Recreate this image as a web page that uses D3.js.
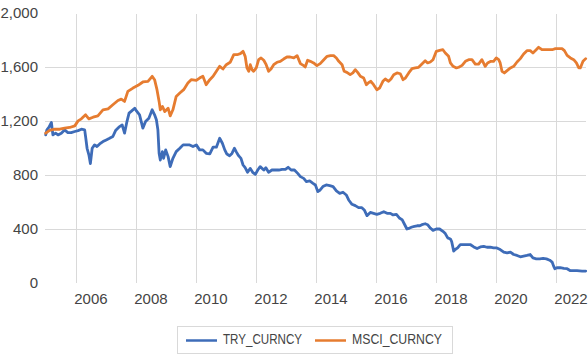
<!DOCTYPE html>
<html>
<head>
<meta charset="utf-8">
<script src="https://cdn.jsdelivr.net/npm/d3@7"></script>
<style>
  html, body { margin: 0; padding: 0; background: #fff; }
  svg { display: block; font-family: "Liberation Sans", Arial, sans-serif; }
</style>
</head>
<body>
<svg id="chart" width="588" height="355"></svg>
<script>
// ---- data (decimal year, value) ----
const seriesNames = ["TRY_CURNCY", "MSCI_CURNCY"];
const seriesColors = ["#3e6cb8", "#e67c30"];

const tryYears = [2004.99,2005.03,2005.10,2005.18,2005.23,2005.32,2005.40,2005.51,2005.62,2005.73,2005.84,2005.96,2006.07,2006.18,2006.29,2006.32,2006.37,2006.43,2006.48,2006.54,2006.62,2006.70,2006.79,2006.90,2007.01,2007.12,2007.23,2007.32,2007.43,2007.54,2007.62,2007.70,2007.77,2007.84,2007.96,2008.03,2008.12,2008.23,2008.32,2008.43,2008.54,2008.62,2008.68,2008.73,2008.77,2008.81,2008.88,2008.92,2008.99,2009.07,2009.14,2009.23,2009.34,2009.46,2009.57,2009.68,2009.79,2009.90,2010.01,2010.12,2010.23,2010.34,2010.46,2010.57,2010.68,2010.79,2010.88,2010.96,2011.03,2011.12,2011.20,2011.28,2011.34,2011.42,2011.50,2011.57,2011.64,2011.72,2011.81,2011.89,2011.98,2012.06,2012.14,2012.26,2012.33,2012.42,2012.53,2012.64,2012.76,2012.87,2012.98,2013.07,2013.17,2013.28,2013.39,2013.48,2013.59,2013.68,2013.79,2013.90,2013.98,2014.06,2014.14,2014.23,2014.34,2014.46,2014.57,2014.68,2014.79,2014.90,2015.01,2015.09,2015.20,2015.31,2015.42,2015.53,2015.61,2015.70,2015.81,2015.92,2016.03,2016.14,2016.26,2016.37,2016.48,2016.57,2016.68,2016.79,2016.87,2016.94,2017.03,2017.12,2017.20,2017.28,2017.37,2017.46,2017.53,2017.64,2017.72,2017.81,2017.90,2018.01,2018.12,2018.23,2018.31,2018.39,2018.48,2018.52,2018.59,2018.64,2018.72,2018.81,2018.92,2019.03,2019.14,2019.26,2019.37,2019.48,2019.59,2019.70,2019.81,2019.92,2020.03,2020.14,2020.26,2020.37,2020.48,2020.59,2020.70,2020.81,2020.92,2021.03,2021.14,2021.23,2021.34,2021.46,2021.57,2021.68,2021.79,2021.87,2021.92,2021.96,2022.03,2022.14,2022.26,2022.37,2022.48,2022.59,2022.70,2022.87,2022.99];
const tryValues = [1097,1134,1154,1189,1097,1110,1097,1110,1134,1114,1114,1122,1129,1139,1134,1085,998,949,885,998,1023,1011,1030,1048,1060,1072,1085,1129,1154,1171,1110,1196,1258,1271,1295,1271,1246,1147,1196,1221,1283,1246,1209,1134,961,911,973,924,986,936,862,924,973,998,1023,1023,1023,1011,1023,986,986,961,956,1006,1006,1072,1035,986,955,943,960,998,973,943,923,874,854,820,849,820,805,837,862,837,854,820,837,837,837,842,842,857,837,837,812,788,775,751,756,738,726,677,689,714,726,721,714,682,664,672,652,615,583,573,558,558,541,499,523,516,509,516,528,516,516,504,509,479,469,439,400,407,415,420,424,424,432,439,432,407,390,400,400,383,366,334,326,309,236,248,260,285,285,285,285,267,255,267,272,265,265,260,260,248,228,223,228,211,204,194,199,204,211,186,179,179,182,179,169,155,125,106,113,113,108,106,91,91,91,88,88];

const msciYears = [2004.99,2005.12,2005.29,2005.46,2005.62,2005.79,2005.96,2006.07,2006.18,2006.32,2006.43,2006.57,2006.73,2006.90,2007.07,2007.23,2007.40,2007.51,2007.62,2007.73,2007.90,2008.07,2008.23,2008.40,2008.54,2008.62,2008.70,2008.77,2008.81,2008.88,2008.96,2009.07,2009.14,2009.23,2009.34,2009.46,2009.59,2009.73,2009.84,2010.01,2010.12,2010.23,2010.34,2010.46,2010.57,2010.68,2010.79,2010.90,2011.01,2011.14,2011.26,2011.37,2011.48,2011.57,2011.64,2011.70,2011.76,2011.81,2011.87,2011.92,2012.01,2012.09,2012.17,2012.26,2012.34,2012.42,2012.50,2012.59,2012.70,2012.81,2012.92,2013.03,2013.14,2013.26,2013.37,2013.48,2013.59,2013.64,2013.72,2013.81,2013.92,2014.03,2014.14,2014.26,2014.37,2014.48,2014.59,2014.68,2014.76,2014.87,2014.94,2015.03,2015.14,2015.23,2015.31,2015.39,2015.48,2015.59,2015.68,2015.76,2015.83,2015.92,2016.03,2016.12,2016.23,2016.31,2016.42,2016.50,2016.59,2016.70,2016.81,2016.90,2016.98,2017.09,2017.20,2017.31,2017.42,2017.53,2017.64,2017.72,2017.81,2017.90,2018.01,2018.12,2018.23,2018.31,2018.42,2018.48,2018.57,2018.68,2018.76,2018.87,2018.98,2019.09,2019.20,2019.31,2019.42,2019.53,2019.64,2019.72,2019.83,2019.92,2020.01,2020.09,2020.14,2020.20,2020.28,2020.37,2020.48,2020.59,2020.70,2020.81,2020.92,2021.03,2021.14,2021.23,2021.34,2021.42,2021.53,2021.64,2021.76,2021.87,2021.98,2022.09,2022.20,2022.28,2022.37,2022.48,2022.59,2022.68,2022.76,2022.81,2022.90,2022.99];
const msciValues = [1110,1130,1139,1139,1147,1152,1164,1201,1216,1246,1216,1228,1238,1283,1290,1320,1352,1362,1345,1419,1444,1464,1489,1494,1531,1506,1432,1345,1283,1308,1270,1295,1238,1283,1382,1407,1432,1481,1506,1501,1518,1531,1469,1506,1531,1568,1605,1585,1617,1635,1691,1691,1699,1716,1679,1593,1568,1617,1580,1568,1593,1654,1667,1650,1617,1568,1585,1617,1635,1642,1659,1674,1674,1667,1684,1625,1610,1600,1650,1642,1630,1610,1625,1654,1679,1684,1684,1667,1642,1617,1568,1560,1543,1556,1580,1560,1531,1518,1469,1486,1494,1469,1432,1444,1494,1511,1494,1511,1543,1556,1550,1506,1518,1556,1588,1593,1598,1622,1647,1630,1637,1654,1716,1723,1728,1704,1679,1630,1605,1593,1598,1612,1642,1654,1654,1622,1622,1654,1605,1630,1642,1642,1667,1654,1630,1568,1556,1573,1593,1605,1637,1662,1696,1721,1721,1704,1728,1746,1728,1728,1728,1728,1736,1736,1736,1721,1686,1667,1654,1630,1593,1593,1642,1662];

const yTicks = [0, 400, 800, 1200, 1600, 2000];
const xTickYears = [2006, 2008, 2010, 2012, 2014, 2016, 2018, 2020, 2022];

// ---- helpers ----
function yearToDate(y) {
  const yr = Math.floor(y);
  const start = new Date(yr, 0, 1), end = new Date(yr + 1, 0, 1);
  return new Date(start.getTime() + (y - yr) * (end - start));
}

const svg = d3.select("#chart");
const textColor = "#444444";
const gridColor = "#d9d9d9";

const x = d3.scaleTime()
  .domain([new Date(2005, 0, 1), new Date(2023, 0, 1)])
  .range([46, 586]);
const y = d3.scaleLinear().domain([0, 2000]).range([283, 13]);

// horizontal gridlines (not at 0 / 2000)
svg.append("g").selectAll("line")
  .data(yTicks.filter(d => d > 0 && d < 2000))
  .join("line")
  .attr("x1", 45).attr("x2", 586)
  .attr("y1", d => Math.round(y(d)) + 0.5)
  .attr("y2", d => Math.round(y(d)) + 0.5)
  .attr("stroke", gridColor).attr("stroke-width", 1);

// vertical gridlines
svg.append("g").selectAll("line")
  .data(xTickYears)
  .join("line")
  .attr("x1", d => Math.round(x(new Date(d, 0, 1))) + 0.5)
  .attr("x2", d => Math.round(x(new Date(d, 0, 1))) + 0.5)
  .attr("y1", 14).attr("y2", 283)
  .attr("stroke", gridColor).attr("stroke-width", 1);

// y labels
const fmt = d3.format(",");
svg.append("g").selectAll("text")
  .data(yTicks)
  .join("text")
  .attr("x", 38)
  .attr("y", d => y(d))
  .attr("dy", "0.35em")
  .attr("text-anchor", "end")
  .attr("font-size", "15px")
  .attr("fill", textColor)
  .text(d => fmt(d));

// x labels (centred half a year right of the gridline, as in the reference)
svg.append("g").selectAll("text")
  .data(xTickYears)
  .join("text")
  .attr("x", d => x(yearToDate(d + 0.5)))
  .attr("y", 303.5)
  .attr("text-anchor", "middle")
  .attr("font-size", "15px")
  .attr("fill", textColor)
  .text(d => d);

// lines
const line = d3.line()
  .x(d => x(yearToDate(d[0])))
  .y(d => y(d[1]));

const seriesData = [
  d3.zip(tryYears, tryValues),
  d3.zip(msciYears, msciValues)
];

svg.append("g").selectAll("path")
  .data(seriesData)
  .join("path")
  .attr("d", line)
  .attr("fill", "none")
  .attr("stroke", (d, i) => seriesColors[i])
  .attr("stroke-width", 2.8)
  .attr("stroke-linejoin", "round")
  .attr("stroke-linecap", "round");

// legend
const lg = svg.append("g");
lg.append("rect")
  .attr("x", 177.5).attr("y", 326.5)
  .attr("width", 275).attr("height", 27)
  .attr("fill", "#fff").attr("stroke", gridColor);

const legendItems = [
  { lx: 186, tx: 223, tw: 79 },
  { lx: 315, tx: 352, tw: 90 }
];
legendItems.forEach((it, i) => {
  lg.append("line")
    .attr("x1", it.lx).attr("x2", it.lx + 31)
    .attr("y1", 340.5).attr("y2", 340.5)
    .attr("stroke", seriesColors[i]).attr("stroke-width", 2.5);
  lg.append("text")
    .attr("x", it.tx).attr("y", 343.5)
    .attr("font-size", "14px")
    .attr("fill", textColor)
    .attr("textLength", it.tw)
    .attr("lengthAdjust", "spacingAndGlyphs")
    .text(seriesNames[i]);
});
</script>
</body>
</html>
